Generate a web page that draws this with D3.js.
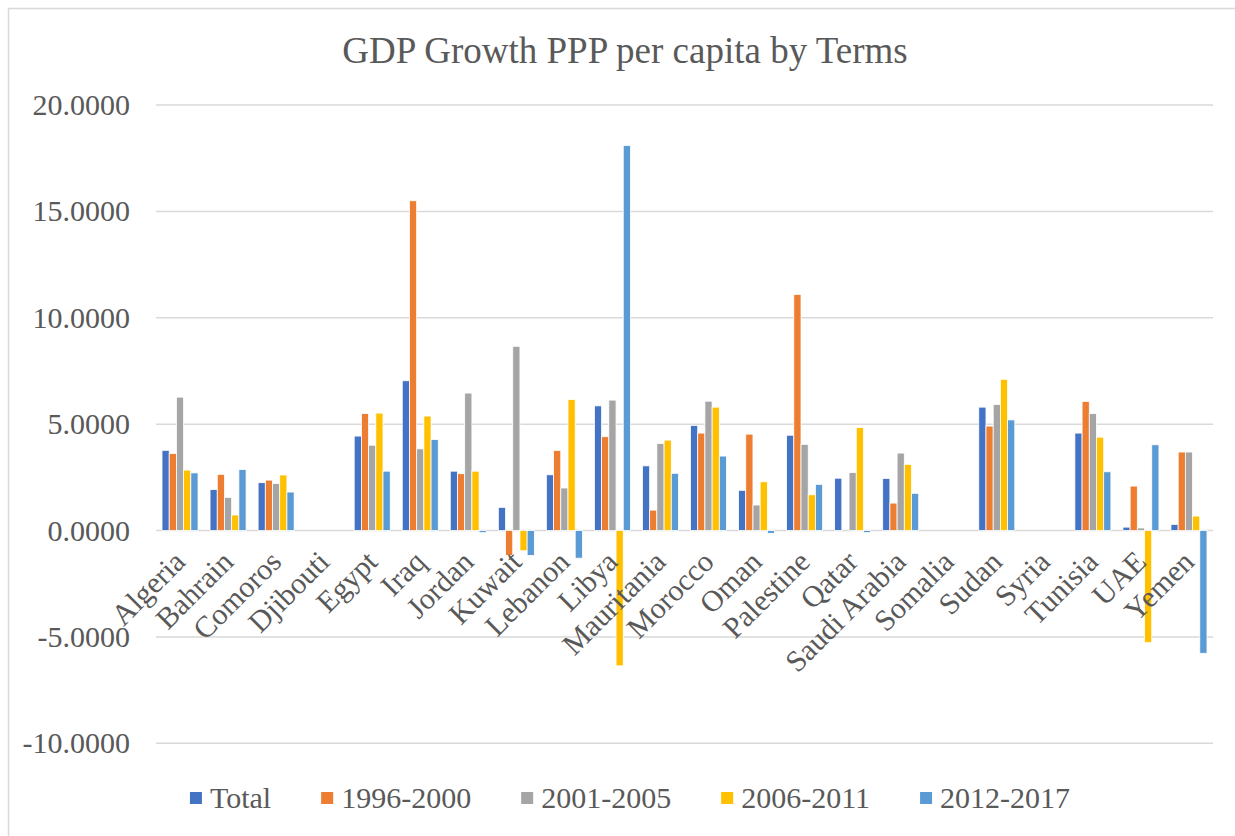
<!DOCTYPE html>
<html>
<head>
<meta charset="utf-8">
<script src="https://cdn.jsdelivr.net/npm/d3@7"></script>
<style>
  html, body { margin: 0; padding: 0; background: #fff; }
  svg { display: block; }
  text { font-family: "Liberation Serif", "Times New Roman", serif; fill: #595959; }
</style>
</head>
<body>
<svg id="chart" width="1235" height="836"></svg>
<script>
const categories = ["Algeria","Bahrain","Comoros","Djibouti","Egypt","Iraq","Jordan","Kuwait","Lebanon","Libya","Mauritania","Morocco","Oman","Palestine","Qatar","Saudi Arabia","Somalia","Sudan","Syria","Tunisia","UAE","Yemen"];
const seriesNames = ["Total","1996-2000","2001-2005","2006-2011","2012-2017"];
const total    = [3.77, 1.93, 2.25, null, 4.44, 7.04, 2.79, 1.09, 2.62, 5.86, 3.04, 4.94, 1.89, 4.48, 2.46, 2.45, null, 5.80, null, 4.58, 0.16, 0.29];
const p1996    = [3.62, 2.64, 2.37, null, 5.50, 15.50, 2.67, -1.17, 3.76, 4.41, 0.96, 4.58, 4.53, 11.10, null, 1.29, null, 4.91, null, 6.07, 2.09, 3.69];
const p2001    = [6.27, 1.56, 2.21, null, 4.01, 3.84, 6.46, 8.66, 2.00, 6.13, 4.09, 6.08, 1.20, 4.05, 2.73, 3.64, null, 5.92, null, 5.50, 0.12, 3.69];
const p2006    = [2.84, 0.73, 2.61, null, 5.52, 5.38, 2.79, -0.95, 6.16, -6.36, 4.25, 5.80, 2.29, 1.68, 4.84, 3.11, null, 7.11, null, 4.39, -5.27, 0.68];
const p2012    = [2.71, 2.87, 1.81, null, 2.79, 4.28, -0.10, -1.17, -1.30, 18.10, 2.69, 3.50, -0.13, 2.17, -0.10, 1.75, null, 5.20, null, 2.76, 4.03, -5.77];
const yTicks   = [-10, -5, 0, 5, 10, 15, 20];
const colors   = ["#4472C4","#ED7D31","#A5A5A5","#FFC000","#5B9BD5"];
const seriesValues = [total, p1996, p2001, p2006, p2012];

const svg = d3.select("#chart");
const W = 1235, H = 836;
const plot = {left: 156, right: 1213, top: 105, bottom: 743.3};

// outer border (left & top visible)
svg.append("rect").attr("x", 8.5).attr("y", 8.5).attr("width", W + 20).attr("height", H + 20)
  .attr("fill", "#fff").attr("stroke", "#d9d9d9").attr("stroke-width", 1.5);

const y = d3.scaleLinear().domain([-10, 20]).range([plot.bottom, plot.top]);
const x0 = d3.scaleBand().domain(categories).range([plot.left, plot.right]).paddingInner(0.25).paddingOuter(0.125);
const x1 = d3.scaleBand().domain(seriesNames).range([0, x0.bandwidth()]);

// title
svg.append("text").attr("x", 625).attr("y", 63).attr("text-anchor", "middle")
  .style("font-size", "37px").text("GDP Growth PPP per capita by Terms");

// gridlines
svg.append("g").selectAll("line").data(yTicks).join("line")
  .attr("x1", plot.left).attr("x2", plot.right)
  .attr("y1", d => y(d)).attr("y2", d => y(d))
  .attr("stroke", "#d9d9d9").attr("stroke-width", 1.5);

// y axis labels
const loc = d3.formatLocale({decimal: ".", thousands: ",", grouping: [3], currency: ["$", ""], minus: "-"});
const yAxis = d3.axisLeft(y).tickValues(yTicks).tickSize(0).tickPadding(0).tickFormat(loc.format(".4f"));
const gy = svg.append("g").attr("transform", `translate(130,0)`).call(yAxis);
gy.attr("font-family", null).attr("font-size", null);
gy.select(".domain").remove();
gy.selectAll("text").style("font-size", "30px").attr("fill", "#595959")
  .style("font-family", '"Liberation Serif", "Times New Roman", serif');

// bars
const rows = [];
categories.forEach((c, i) => {
  seriesNames.forEach((s, j) => {
    const v = seriesValues[j][i];
    if (v !== null && v !== undefined) rows.push({c, s, v, j});
  });
});
svg.append("g").selectAll("rect").data(rows).join("rect")
  .attr("x", d => x0(d.c) + x1(d.s))
  .attr("width", x1.bandwidth())
  .attr("y", d => Math.min(y(d.v), y(0)))
  .attr("height", d => Math.abs(y(d.v) - y(0)))
  .attr("fill", d => colors[d.j])
  .attr("stroke", "#fff").attr("stroke-width", 0.8);

// x axis labels (rotated)
const gx = svg.append("g");
gx.selectAll("text").data(categories).join("text")
  .attr("transform", d => `translate(${x0(d) + x0.bandwidth() / 2 + 7},${y(0) + 33}) rotate(-45)`)
  .attr("text-anchor", "end")
  .style("font-size", "30px")
  .text(d => d);

// legend
const lg = svg.append("g").attr("transform", "translate(0,798)");
const items = [];
seriesNames.forEach((s, j) => {
  const g = lg.append("g");
  g.append("rect").attr("x", 0).attr("y", -6).attr("width", 12).attr("height", 12).attr("fill", colors[j]);
  const t = g.append("text").attr("x", 20).attr("y", 10).style("font-size", "30px").text(s);
  const w = 20 + t.node().getComputedTextLength();
  items.push({g, w});
});
const gap = 50;
const totalW = d3.sum(items, d => d.w) + gap * (items.length - 1);
let start = 630 - totalW / 2;
items.forEach(it => { it.g.attr("transform", `translate(${start},0)`); start += it.w + gap; });
</script>
</body>
</html>
